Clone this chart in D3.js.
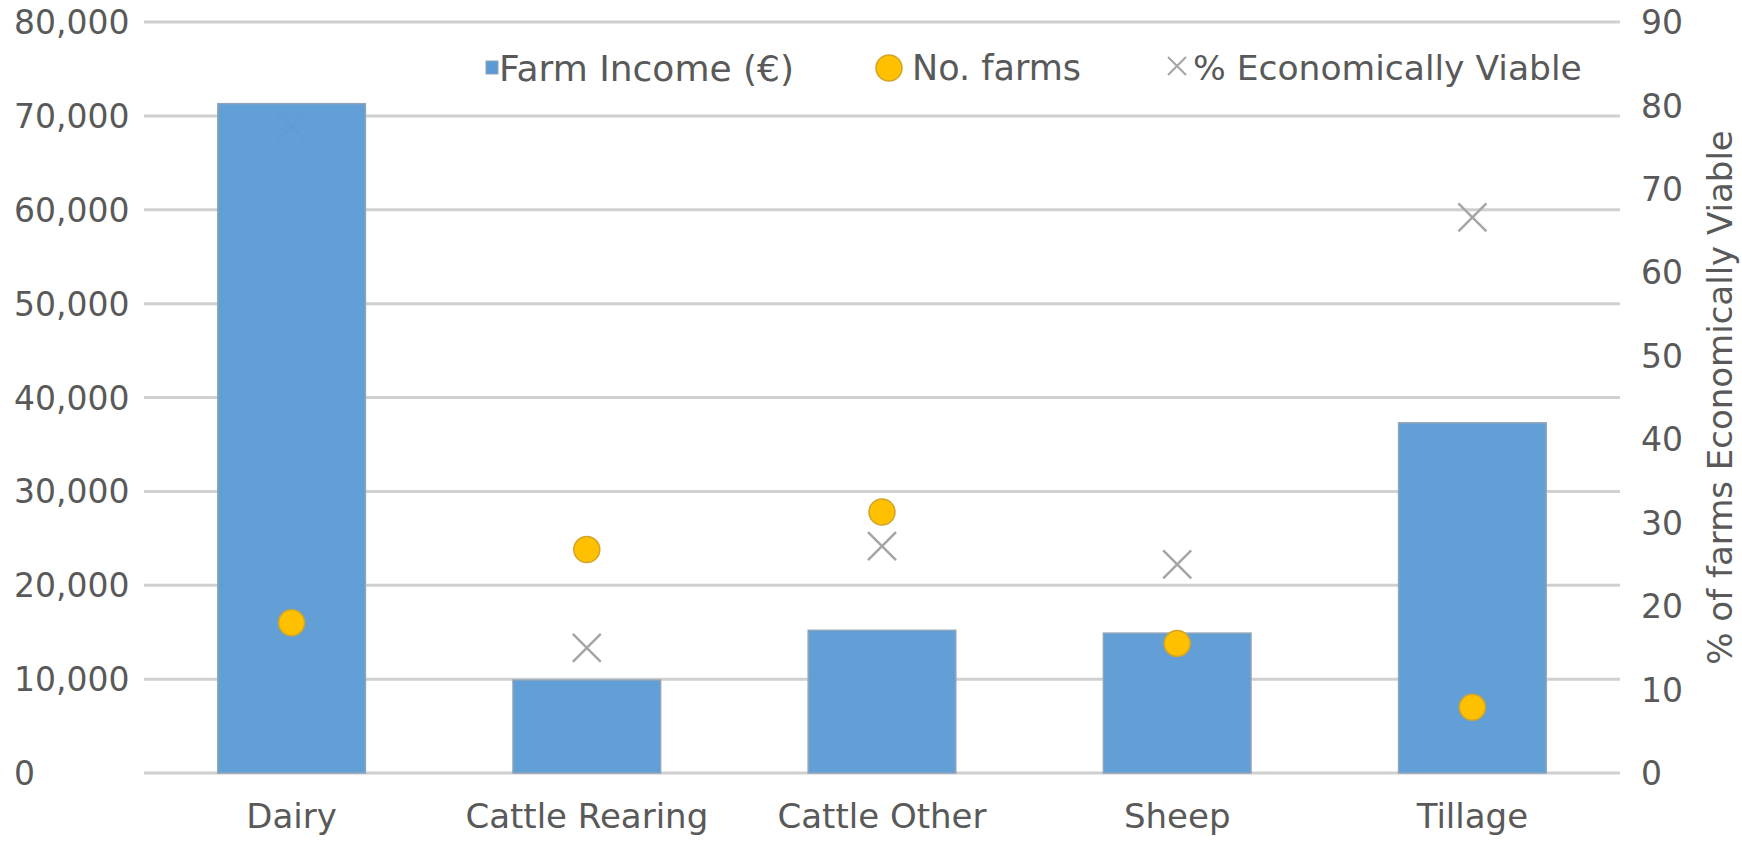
<!DOCTYPE html>
<html>
<head>
<meta charset="utf-8">
<script src="https://cdn.jsdelivr.net/npm/d3@7"></script>
<style>
  html, body { margin: 0; padding: 0; background: #fff; }
  svg { display: block; }
  text { font-family: "DejaVu Sans", sans-serif; fill: #595959; }
</style>
</head>
<body>
<svg id="chart" width="1742" height="841"></svg>
<script>
// Farm types and their figures
const categories = ["Dairy", "Cattle Rearing", "Cattle Other", "Sheep", "Tillage"];
const farmIncome = [71300, 9900, 15200, 14900, 37300];      // € per farm
const numFarms   = [16000, 23800, 27800, 13800, 7000];      // farms (left axis)
const pctViable  = [77.5, 15.0, 27.2, 25.0, 66.6];          // % (right axis)

const leftTicks  = [0, 10000, 20000, 30000, 40000, 50000, 60000, 70000, 80000];
const rightTicks = [0, 10, 20, 30, 40, 50, 60, 70, 80, 90];

const legendItems = ["Farm Income (€)", "No. farms", "% Economically Viable"];
const rightTitle = "% of farms Economically Viable";

const plot = { left: 144, right: 1620, top: 22, bottom: 773 };

const svg = d3.select("#chart");

const x = d3.scaleBand()
  .domain(categories)
  .range([plot.left, plot.right])
  .paddingInner(0.5)
  .paddingOuter(0.25);

const yL = d3.scaleLinear().domain([0, 80000]).range([plot.bottom, plot.top]);
const yR = d3.scaleLinear().domain([0, 90]).range([plot.bottom, plot.top]);

const fmt = d3.format(",");

// Gridlines
svg.append("g")
  .selectAll("line")
  .data(leftTicks)
  .join("line")
  .attr("x1", plot.left).attr("x2", plot.right)
  .attr("y1", d => yL(d)).attr("y2", d => yL(d))
  .attr("stroke", "#d0d0d0")
  .attr("stroke-width", 3);

// Left axis labels
const leftAxis = d3.axisLeft(yL).tickValues(leftTicks).tickFormat(fmt).tickSize(0);
const gL = svg.append("g").attr("transform", `translate(14,0)`).call(leftAxis);
gL.select(".domain").remove();
gL.selectAll("text")
  .attr("x", 0)
  .attr("text-anchor", "start")
  .attr("dy", "0.35em")
  .style("font-size", "33px")
  .style("font-family", "DejaVu Sans, sans-serif")
  .attr("fill", "#595959");

// Right axis labels
const rightAxis = d3.axisRight(yR).tickValues(rightTicks).tickSize(0);
const gR = svg.append("g").attr("transform", `translate(1641,0)`).call(rightAxis);
gR.select(".domain").remove();
gR.selectAll("text")
  .attr("x", 0)
  .attr("dy", "0.35em")
  .style("font-size", "33px")
  .style("font-family", "DejaVu Sans, sans-serif")
  .attr("fill", "#595959");

// Right axis title
svg.append("text")
  .attr("transform", `translate(1732,${(plot.top + plot.bottom) / 2}) rotate(-90)`)
  .attr("text-anchor", "middle")
  .style("font-size", "34px")
  .text(rightTitle);

// Bottom axis labels
const bottomAxis = d3.axisBottom(x).tickSize(0);
const gB = svg.append("g").attr("transform", `translate(0,${plot.bottom})`).call(bottomAxis);
gB.select(".domain").remove();
gB.selectAll("text")
  .attr("y", 55)
  .attr("dy", 0)
  .style("font-size", "34px")
  .style("font-family", "DejaVu Sans, sans-serif")
  .attr("fill", "#595959");

// Cross markers (% economically viable), drawn beneath the bars
const cross = 14;
const crossG = svg.append("g")
  .selectAll("g")
  .data(categories.map((c, i) => ({ c, v: pctViable[i] })))
  .join("g")
  .attr("transform", d => `translate(${x(d.c) + x.bandwidth() / 2},${yR(d.v)})`);
crossG.append("path")
  .attr("d", `M${-cross},${-cross}L${cross},${cross}M${-cross},${cross}L${cross},${-cross}`)
  .attr("stroke", "#a5a5a5")
  .attr("stroke-width", 2.5)
  .attr("fill", "none");

// Bars (farm income)
svg.append("g")
  .selectAll("rect")
  .data(categories.map((c, i) => ({ c, v: farmIncome[i] })))
  .join("rect")
  .attr("x", d => x(d.c))
  .attr("width", x.bandwidth())
  .attr("y", d => yL(d.v))
  .attr("height", d => yL(0) - yL(d.v))
  .attr("fill", "#5b9bd5")
  .attr("fill-opacity", 0.965)
  .attr("stroke", "#8fa4b9")
  .attr("stroke-width", 1.5);

// Circle markers (number of farms)
svg.append("g")
  .selectAll("circle")
  .data(categories.map((c, i) => ({ c, v: numFarms[i] })))
  .join("circle")
  .attr("cx", d => x(d.c) + x.bandwidth() / 2)
  .attr("cy", d => yL(d.v))
  .attr("r", 13)
  .attr("fill", "#ffc000")
  .attr("stroke", "#d2a52a")
  .attr("stroke-width", 1.5);

// Legend
const lg = svg.append("g");
const legY = 68;
lg.append("rect")
  .attr("x", 486).attr("y", legY - 7).attr("width", 12).attr("height", 13)
  .attr("fill", "#5b9bd5").attr("stroke", "#8fa4b9").attr("stroke-width", 1);
lg.append("text").attr("x", 499).attr("y", legY).attr("dy", "0.35em")
  .style("font-size", "36px").text(legendItems[0]);

lg.append("circle")
  .attr("cx", 889).attr("cy", legY).attr("r", 13)
  .attr("fill", "#ffc000").attr("stroke", "#d2a52a").attr("stroke-width", 1.5);
lg.append("text").attr("x", 912).attr("y", legY).attr("dy", "0.35em")
  .style("font-size", "35px").text(legendItems[1]);

const lc = 9;
lg.append("path")
  .attr("transform", `translate(1177,${legY - 2})`)
  .attr("d", `M${-lc},${-lc}L${lc},${lc}M${-lc},${lc}L${lc},${-lc}`)
  .attr("stroke", "#a5a5a5").attr("stroke-width", 2).attr("fill", "none");
lg.append("text").attr("x", 1193).attr("y", legY).attr("dy", "0.35em")
  .style("font-size", "34.5px").text(legendItems[2]);
</script>
</body>
</html>
